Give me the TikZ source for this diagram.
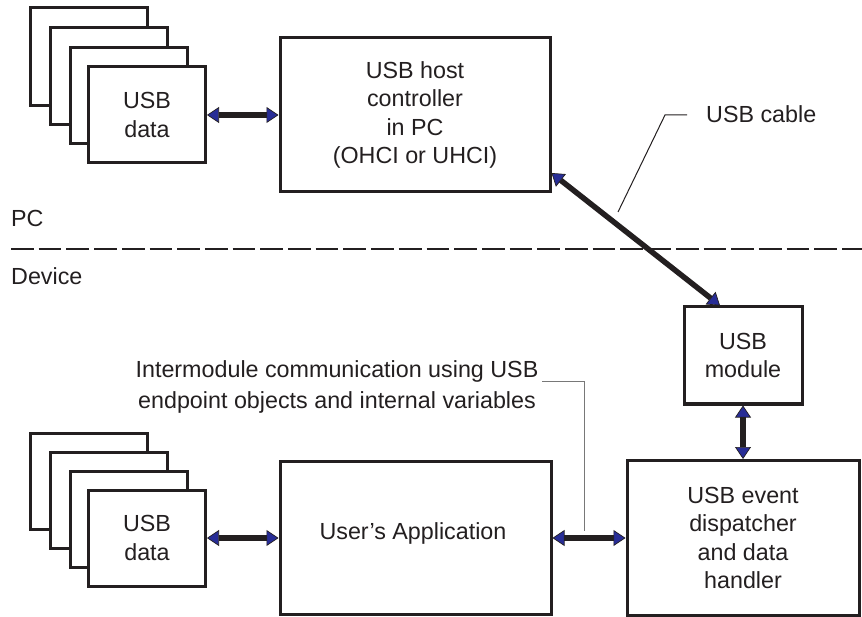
\documentclass[tikz,border=0pt]{standalone}
\usepackage{fontspec}
\setmainfont{Liberation Sans}
\usetikzlibrary{arrows.meta}
\definecolor{tipblue}{RGB}{40,45,150}
\definecolor{ink}{RGB}{35,31,32}
\definecolor{leadgray}{RGB}{120,120,120}
\tikzset{
  tip/.tip={Triangle[length=12pt,width=16pt,fill=tipblue,line width=0.7pt]},
  box/.style={draw=ink, line width=3pt, fill=white, inner sep=0pt, align=center,
    font=\fontsize{23.3}{28.3}\selectfont, text=ink},
  pagebox/.style={box, minimum width=117pt, minimum height=96pt},
  link/.style={draw=ink, line width=5.5pt, tip-tip},
  lbl/.style={inner sep=0pt, text=ink, font=\fontsize{23.3}{28.3}\selectfont},
  leader/.style={line width=1pt}
}
\begin{document}
\begin{tikzpicture}[x=1pt,y=-1pt]
\useasboundingbox (0,0) rectangle (862,617);

% PC / Device separator
\coordinate (sepL) at (11,249);
\coordinate (sepR) at (862,249);
\draw[ink, line width=2.2pt, dash pattern=on 22.7pt off 5pt] (sepL) -- (sepR);
\node[lbl, anchor=base west] (pc) at (11,227) {PC};
\node[lbl, anchor=base west] (dev) at (11,285) {Device};

% top stack of USB data pages
\node[pagebox, minimum height=98pt] (ta) at (89,57) {};
\node[pagebox, minimum height=97pt] (tb) at (108.5,76) {};
\node[pagebox] (tc) at (128.5,96) {};
\node[pagebox] (td) at (147,115) {USB\\data};

% host controller
\node[box, minimum width=270pt, minimum height=154pt] (host) at (415,115)
  {USB host\\controller\\in PC\\(OHCI or UHCI)};

% USB module
\node[box, minimum width=118pt, minimum height=97pt] (mod) at (743,355.5) {USB\\module};

% dispatcher
\node[box, minimum width=232pt, minimum height=155pt] (disp) at (743,538)
  {USB event\\dispatcher\\and data\\handler};

% bottom stack of USB data pages
\node[pagebox] (ba) at (89,481) {};
\node[pagebox] (bb) at (108.5,500.5) {};
\node[pagebox] (bc) at (128.5,519.5) {};
\node[pagebox] (bd) at (147,538) {USB\\data};

% user's application
\node[box, minimum width=271pt, minimum height=153pt] (app) at (415.5,538) {};
\node[lbl] (apptxt) at (413,533) {User’s Application};

% USB cable leader
\node[lbl, anchor=base west] (cable) at (706,123) {USB cable};
\coordinate (cl1) at (618,212);
\coordinate (cl2) at (665,115);
\coordinate (cl3) at (687,115);
\draw[leader, ink] (cl1) -- (cl2) -- (cl3);

% intermodule leader
\node[lbl, align=center, font=\fontsize{23.3}{31}\selectfont] (inter) at (337,386.5)
  {Intermodule communication using USB\\endpoint objects and internal variables};
\coordinate (il1) at (542,382);
\coordinate (il2) at (584,382);
\coordinate (il3) at (584,531);
\draw[leader, leadgray] (il1) -- (il2) -- (il3);

% connectors
\draw[link] (td.east) -- (host.west);
\draw[link] ([yshift=20.5pt]host.south east) -- ([xshift=-23pt]mod.north);
\draw[link] (mod.south) -- (disp.north);
\draw[link] (bd.east) -- (app.west);
\draw[link] (app.east) -- (disp.west);
\end{tikzpicture}
\end{document}
